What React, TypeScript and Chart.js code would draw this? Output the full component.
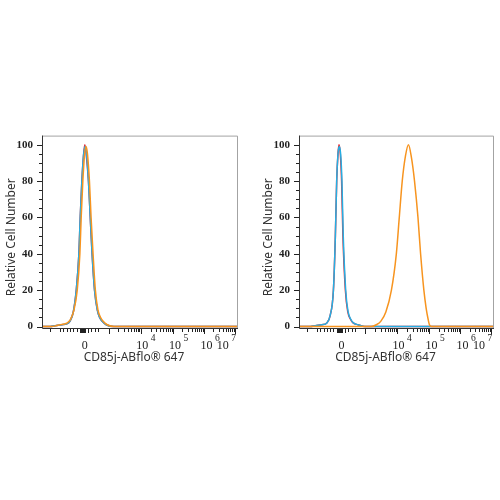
import React, { useEffect, useRef } from "react";
import { Chart, registerables } from "chart.js";
Chart.register(...registerables);

// ---- axis ranges / ticks (display units of the biexponential axis) ----
const X_MIN = -1.3;
const X_MAX = 4.65;
const Y_MIN = -0.8;
const Y_MAX = 105;

const xTickValues = [0, 1.85, 2.85, 3.8, 4.3];
const xTickBases = ["0", "10", "10", "10", "10"];
const xTickExponents = ["", "4", "5", "6", "7"];
const yTickValues = [0, 20, 40, 60, 80, 100];
const yMinorTicks = [5, 10, 15, 25, 30, 35, 45, 50, 55, 65, 70, 75, 85, 90, 95];
const xLinearTicks = [-1.06, -0.75, -0.65, -0.55, -0.45, -0.35, -0.25, -0.15, -0.12, -0.09, -0.06, -0.03, 0, 0.1, 0.2, 0.31, 0.41];
const xDecadeTicks = [0.72, 1.7, 2.68, 3.62, 4.56];
const minorMultipliers = [2, 3, 4, 5, 6, 7, 8, 9];

const xTitle = "CD85j-ABflo® 647";
const yTitle = "Relative Cell Number";

const colorIso = "#e5262f";
const colorBlue = "#25aee3";
const colorOrange = "#f7941f";

// ---- left panel ----
const leftIsoX = [-1.3, -1.05, -0.9, -0.7, -0.55, -0.45, -0.35, -0.26, -0.18, -0.14, -0.09, -0.04, 0.0, 0.04, 0.11, 0.165, 0.22, 0.295, 0.38, 0.45, 0.52, 0.65, 0.86, 4.65];
const leftIsoY = [0, 0, 0.5, 1, 1.5, 3, 8, 20, 40, 60, 80, 94, 100, 95, 80, 60, 40, 20, 9, 5, 3, 1, 0, 0];
const leftBlueX = [-1.3, -1.05, -0.9, -0.7, -0.55, -0.45, -0.35, -0.26, -0.18, -0.14, -0.09, -0.04, 0.01, 0.05, 0.11, 0.165, 0.22, 0.295, 0.38, 0.45, 0.52, 0.65, 0.86, 4.65];
const leftBlueY = [0, 0, 0.5, 1, 1.5, 3, 8, 20, 40, 60, 80, 94, 99, 95, 80, 60, 40, 20, 9, 5, 3, 1, 0, 0];
const leftOrangeX = [-1.3, -1.0, -0.85, -0.7, -0.55, -0.45, -0.33, -0.23, -0.15, -0.11, -0.06, -0.01, 0.04, 0.08, 0.14, 0.19, 0.25, 0.32, 0.4, 0.48, 0.55, 0.68, 0.9, 4.65];
const leftOrangeY = [0, 0, 0.6, 1.2, 1.8, 3.5, 9, 20, 40, 60, 80, 94, 99, 95, 80, 60, 40, 20, 9, 5, 3, 1, 0, 0];

// ---- right panel ----
const rightIsoX = [-1.3, -0.95, -0.8, -0.6, -0.45, -0.35, -0.25, -0.19, -0.15, -0.11, -0.08, -0.04, 0.0, 0.04, 0.115, 0.19, 0.27, 0.35, 0.5, 0.71, 4.65];
const rightIsoY = [0, 0, 0.5, 1, 2, 6, 20, 50, 80, 95, 100, 95, 80, 50, 20, 8, 4, 2, 1, 0, 0];
const rightBlueX = [-1.3, -0.95, -0.8, -0.6, -0.45, -0.35, -0.25, -0.19, -0.15, -0.11, -0.07, -0.03, 0.01, 0.05, 0.125, 0.2, 0.28, 0.36, 0.5, 0.71, 4.65];
const rightBlueY = [0, 0, 0.5, 1, 2, 6, 20, 50, 80, 95, 99, 95, 80, 50, 20, 8, 4, 2, 1, 0, 0];
const rightOrangeX = [-1.3, 0.9, 1.06, 1.2, 1.35, 1.52, 1.67, 1.76, 1.85, 1.95, 2.04, 2.13, 2.225, 2.33, 2.41, 2.51, 2.58, 2.64, 2.68, 2.75, 4.65];
const rightOrangeY = [0, 0, 1, 3, 8, 20, 40, 60, 80, 94, 100, 93, 80, 60, 40, 20, 10, 4, 1, 0, 0];

type Series = { xs: number[]; ys: number[]; color: string };

const decorPlugin = {
  id: "decor",
  afterDraw(chart: any, _args: any, opts: any) {
    const { ctx, chartArea: a, scales } = chart;
    const x = scales.x;
    const y = scales.y;
    ctx.save();
    // frame (top / right)
    ctx.lineWidth = 1;
    ctx.strokeStyle = "#a3a3a3";
    ctx.beginPath();
    ctx.moveTo(a.left, a.top + 0.5);
    ctx.lineTo(Math.round(a.right) - 0.5, a.top + 0.5);
    ctx.lineTo(Math.round(a.right) - 0.5, a.bottom);
    ctx.stroke();
    // axis lines
    ctx.strokeStyle = "#333";
    ctx.beginPath();
    ctx.moveTo(a.left + 0.5, a.top);
    ctx.lineTo(a.left + 0.5, a.bottom + 0.5);
    ctx.lineTo(a.right, a.bottom + 0.5);
    ctx.stroke();
    // y ticks
    ctx.strokeStyle = "#222";
    ctx.beginPath();
    for (const v of yTickValues) {
      const py = Math.round(y.getPixelForValue(v)) + 0.5;
      ctx.moveTo(a.left - 5, py);
      ctx.lineTo(a.left, py);
    }
    for (const v of yMinorTicks) {
      const py = Math.round(y.getPixelForValue(v)) + 0.5;
      ctx.moveTo(a.left - 3, py);
      ctx.lineTo(a.left, py);
    }
    // x ticks
    const xb = a.bottom + 1;
    const mark = (v: number, len: number) => {
      const px = Math.round(x.getPixelForValue(v)) + 0.5;
      ctx.moveTo(px, xb);
      ctx.lineTo(px, xb + len);
    };
    for (const v of xLinearTicks) mark(v, Math.abs(v) < 0.16 ? 4 : 3);
    for (let i = 0; i < xDecadeTicks.length; i++) {
      mark(xDecadeTicks[i], 5);
      if (i + 1 < xDecadeTicks.length) {
        const span = xDecadeTicks[i + 1] - xDecadeTicks[i];
        for (const k of minorMultipliers) mark(xDecadeTicks[i] + Math.log10(k) * span, 3);
      }
    }
    ctx.stroke();

    // x tick labels with superscript exponents
    ctx.fillStyle = "#222";
    ctx.textBaseline = "middle";
    ctx.textAlign = "left";
    const baseFont = '12px "Liberation Serif", serif';
    const expFont = '9.5px "Liberation Serif", serif';
    for (let i = 0; i < xTickValues.length; i++) {
      const cx = x.getPixelForValue(xTickValues[i]);
      ctx.font = baseFont;
      const wb = ctx.measureText(xTickBases[i]).width;
      ctx.font = expFont;
      const exp = xTickExponents[i];
      const we = exp ? ctx.measureText(exp).width + 2.5 : 0;
      const x0 = cx - (wb + we) / 2;
      ctx.font = baseFont;
      ctx.fillText(xTickBases[i], x0, a.bottom + 17.5);
      if (exp) {
        ctx.font = expFont;
        ctx.fillText(exp, x0 + wb + 2.5, a.bottom + 10.5);
      }
    }

    // titles
    ctx.fillStyle = "#333";
    ctx.font = '12px "Noto Sans", sans-serif';
    ctx.textAlign = "center";
    ctx.textBaseline = "middle";
    ctx.fillText(xTitle, (a.left + a.right) / 2 + (opts.dx || 0), a.bottom + 30);
    ctx.translate(11.5, (a.top + a.bottom) / 2 + 5.5);
    ctx.rotate(-Math.PI / 2);
    ctx.fillText(yTitle, 0, 0);
    ctx.restore();
  },
};

function Histogram(props: { series: Series[]; left: number; width: number; padRight: number; titleDx: number }) {
  const ref = useRef<HTMLCanvasElement>(null);
  const { series, left, width, padRight, titleDx } = props;
  useEffect(() => {
    const chart = new Chart(ref.current as HTMLCanvasElement, {
      type: "line",
      data: {
        datasets: series.map((s) => ({
          data: s.xs.map((xv, i) => ({ x: xv, y: s.ys[i] })),
          borderColor: s.color,
          borderWidth: 1.5,
          pointRadius: 0,
          fill: false,
          cubicInterpolationMode: "monotone" as const,
        })),
      },
      options: {
        responsive: false,
        animation: false,
        layout: { padding: { top: 13, right: padRight, left: 0, bottom: 0 } },
        plugins: {
          legend: { display: false },
          tooltip: { enabled: false },
          decor: { dx: titleDx },
        } as any,
        scales: {
          x: {
            type: "linear",
            min: X_MIN,
            max: X_MAX,
            grid: { display: false, drawTicks: false },
            border: { display: false },
            ticks: { display: false },
            afterBuildTicks: (s: any) => {
              s.ticks = xTickValues.map((v) => ({ value: v }));
            },
            afterFit: (s: any) => {
              s.height = 52;
            },
          },
          y: {
            type: "linear",
            min: Y_MIN,
            max: Y_MAX,
            grid: { display: false, drawTicks: false },
            border: { display: false },
            ticks: {
              padding: 9,
              color: "#222",
              font: { family: '"Liberation Serif", serif', size: 11, weight: "bold" },
            },
            afterBuildTicks: (s: any) => {
              s.ticks = yTickValues.map((v) => ({ value: v }));
            },
            afterFit: (s: any) => {
              s.width = 42;
            },
          },
        },
      } as any,
      plugins: [decorPlugin as any],
    });
    return () => chart.destroy();
  }, []);
  return (
    <canvas
      ref={ref}
      width={width}
      height={260}
      style={{ position: "absolute", left, top: 120, width, height: 260 }}
    />
  );
}

const leftSeries: Series[] = [
  { xs: leftOrangeX, ys: leftOrangeY, color: colorOrange },
  { xs: leftBlueX, ys: leftBlueY, color: colorBlue },
  { xs: leftIsoX, ys: leftIsoY, color: colorIso },
];
const rightSeries: Series[] = [
  { xs: rightOrangeX, ys: rightOrangeY, color: colorOrange },
  { xs: rightBlueX, ys: rightBlueY, color: colorBlue },
  { xs: rightIsoX, ys: rightIsoY, color: colorIso },
];

export default function App() {
  return (
    <div style={{ position: "fixed", left: 0, top: 0, width: 500, height: 500, background: "#fff", overflow: "hidden" }}>
      <Histogram series={leftSeries} left={0} width={250} padRight={12} titleDx={-6} />
      <Histogram series={rightSeries} left={257} width={243} padRight={6} titleDx={-11} />
    </div>
  );
}
